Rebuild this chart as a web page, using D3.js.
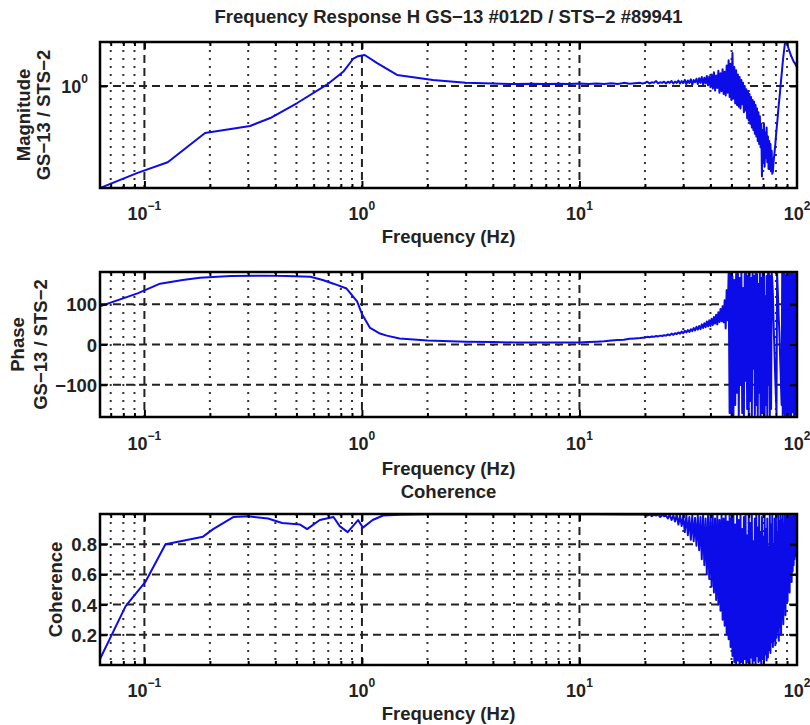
<!DOCTYPE html>
<html><head><meta charset="utf-8">
<script src="https://cdn.jsdelivr.net/npm/d3@7"></script>
<style>
body{margin:0;background:#fff;}
svg text{font-family:"Liberation Sans",Arial,sans-serif;fill:#222;font-weight:bold;}
</style></head>
<body><svg id="c" width="810" height="725"></svg>
<script>
// ---------- data ----------
const titleText = "Frequency Response H GS\u221213 #012D / STS\u22122 #89941";
const xTickExp = [-1, 0, 1, 2];
const magTicks = [1];
const phaseTicks = [-100, 0, 100];
const cohTicks = [0.2, 0.4, 0.6, 0.8];

// low / mid frequency part: [frequency Hz, value]
const magLow = [[0.0625,0.20],[0.093,0.254],[0.128,0.30],[0.19,0.476],[0.306,0.532],[0.379,0.603],[0.504,0.764],[0.69,1.02],[0.82,1.25],[0.91,1.53],[0.96,1.60],[1.03,1.63],[1.17,1.44],[1.45,1.19],[2.12,1.10],[3,1.05],[4,1.04],[5,1.03],[6,1.035],[7,1.03],[8,1.035],[9,1.03],[10,1.04],[11,1.03],[12,1.04],[13,1.03],[14,1.045],[15,1.03],[16,1.05],[17,1.035],[18,1.045],[19,1.05],[19.5,1.04]];
const phaseLow = [[0.0625,95],[0.093,127],[0.118,151],[0.15,160],[0.18,166],[0.25,170],[0.35,171],[0.45,170],[0.58,168],[0.66,160],[0.74,151],[0.85,139],[0.95,107],[1.0,76],[1.09,41],[1.2,28],[1.3,22],[1.49,15],[2,10],[3,7],[4,6],[5,5],[6,5],[7,5],[8,5],[9,5],[10,5],[11,6],[12,7],[13,8],[14,10],[15,11],[16,12],[17,14],[18,15],[19,16],[19.5,17]];
const cohLow = [[0.0625,0.04],[0.082,0.39],[0.101,0.55],[0.125,0.80],[0.186,0.85],[0.207,0.90],[0.256,0.98],[0.30,0.985],[0.37,0.97],[0.43,0.94],[0.52,0.93],[0.56,0.90],[0.64,0.96],[0.74,0.98],[0.79,0.92],[0.86,0.88],[0.96,0.96],[1.01,0.91],[1.12,0.96],[1.25,0.99],[1.5,0.995],[2,0.998],[3,0.999],[5,0.999],[8,0.999],[12,0.998],[16,0.997],[19.5,0.996]];

// high frequency part, 20..100 Hz in 0.5 Hz steps
const hfFreq = [20,20.5,21,21.5,22,22.5,23,23.5,24,24.5,25,25.5,26,26.5,27,27.5,28,28.5,29,29.5,
 30,30.5,31,31.5,32,32.5,33,33.5,34,34.5,35,35.5,36,36.5,37,37.5,38,38.5,39,39.5,
 40,40.5,41,41.5,42,42.5,43,43.5,44,44.5,45,45.5,46,46.5,47,47.5,48,48.5,49,49.5,
 50,50.5,51,51.5,52,52.5,53,53.5,54,54.5,55,55.5,56,56.5,57,57.5,58,58.5,59,59.5,
 60,60.5,61,61.5,62,62.5,63,63.5,64,64.5,65,65.5,66,66.5,67,67.5,68,68.5,69,69.5,
 70,70.5,71,71.5,72,72.5,73,73.5,74,74.5,75,75.5,76,76.5,77,77.5,78,78.5,79,79.5,
 80,80.5,81,81.5,82,82.5,83,83.5,84,84.5,85,85.5,86,86.5,87,87.5,88,88.5,89,89.5,
 90,90.5,91,91.5,92,92.5,93,93.5,94,94.5,95,95.5,96,96.5,97,97.5,98,98.5,99,99.5,100];
const magHF = [1.05,1.07,1.04,1.06,1.05,1.08,1.04,1.06,1.05,1.07,
 1.04,1.07,1.05,1.08,1.04,1.07,1.05,1.09,1.04,1.08,
 1.05,1.10,1.03,1.09,1.05,1.11,1.02,1.10,1.06,1.12,
 1.03,1.13,1.05,1.15,1.02,1.14,1.04,1.17,1.01,1.16,
 0.98,1.20,0.96,1.24,0.93,1.18,0.97,1.27,0.90,1.22,
 0.92,1.30,0.88,1.25,0.86,1.38,0.90,1.50,0.84,1.42,
 0.80,1.68,0.82,1.35,0.76,1.28,0.74,1.20,0.72,1.15,
 0.70,1.10,0.75,1.05,0.66,1.00,0.68,0.95,0.60,0.92,
 0.58,0.88,0.55,0.84,0.52,0.80,0.50,0.78,0.47,0.74,
 0.45,0.70,0.42,0.66,0.40,0.62,0.38,0.55,0.24,0.50,
 0.30,0.55,0.28,0.48,0.32,0.52,0.30,0.45,0.27,0.42,
 0.27,0.40,0.26,0.36,0.25,0.26,0.30,0.33,0.36,0.40,
 0.45,0.50,0.55,0.61,0.68,0.75,0.82,0.90,1.00,1.10,
 1.20,1.32,1.45,1.58,1.70,1.82,1.95,2.05,2.10,2.05,
 1.95,1.90,1.85,1.80,1.75,1.72,1.68,1.64,1.60,1.58,
 1.55,1.52,1.50,1.47,1.45,1.44,1.42,1.40,1.38,1.36,1.35];
const phaseHF = [17,19,18,20,19,21,20,22,21,23,
 22,25,23,27,24,28,26,30,27,32,
 28,34,30,36,31,38,33,41,35,44,
 37,46,38,50,41,53,43,57,45,60,
 46,64,48,68,52,74,50,80,56,88,
 58,95,55,110,40,135,60,178,-170,180,
 -180,170,-178,160,-150,175,-120,178,-178,165,
 -100,180,-170,140,-180,175,-90,178,-160,170,
 -178,180,-140,165,-178,178,-60,170,-175,178,
 -150,175,-178,150,-120,178,-178,165,-170,180,
 -170,178,-178,120,-150,170,-178,178,-100,175,
 -178,170,-160,178,160,120,60,10,-40,-90,
 -130,-170,178,140,100,60,30,-20,-60,-110,
 -150,180,-178,175,-170,178,-180,170,-178,175,
 -176,178,-170,160,-178,175,-165,178,-180,172,
 -168,180,-160,175,-178,170,-175,178,-172,176,-178];
const cohHF = [0.995,0.99,0.998,0.985,0.995,0.99,0.997,0.98,0.995,0.985,
 0.99,0.97,0.995,0.96,0.99,0.95,0.995,0.93,0.99,0.92,
 0.985,0.88,0.99,0.86,0.98,0.83,0.99,0.82,0.975,0.79,
 0.99,0.76,0.98,0.70,0.99,0.66,0.97,0.60,0.99,0.57,
 0.98,0.52,0.99,0.48,0.97,0.43,0.99,0.40,0.96,0.36,
 0.99,0.30,0.97,0.26,0.99,0.20,0.95,0.17,0.99,0.12,
 0.97,0.06,0.99,0.02,0.93,0.01,0.99,0.03,0.96,0.00,
 0.99,0.02,0.90,0.01,0.98,0.04,0.99,0.01,0.86,0.02,
 0.99,0.00,0.94,0.05,0.99,0.01,0.82,0.03,0.97,0.00,
 0.99,0.06,0.91,0.02,0.99,0.03,0.88,0.01,0.98,0.04,
 0.85,0.02,0.99,0.07,0.90,0.03,0.97,0.05,0.78,0.10,
 0.99,0.08,0.93,0.15,0.99,0.12,0.80,0.16,0.97,0.13,
 0.99,0.18,0.88,0.22,0.99,0.16,0.95,0.25,0.99,0.20,
 0.96,0.30,0.99,0.27,0.93,0.38,0.99,0.33,0.97,0.45,
 0.99,0.42,0.96,0.52,0.99,0.48,0.98,0.58,0.99,0.55,
 0.97,0.62,0.99,0.66,0.98,0.70,0.99,0.72,0.97,0.75,0.98];

// ---------- drawing ----------
const svg = d3.select("#c");
const L = 100, R = 797;
const FS = 18.5;
const x = d3.scaleLog().domain([0.0625, 100]).range([L, R]);
const minorX = [];
[0.01,0.1,1,10].forEach(d=>{for(let k=2;k<=9;k++){const v=d*k; if(v>0.0625&&v<100) minorX.push(v);}});
const majorX = xTickExp.map(e=>Math.pow(10,e)).filter(v=>v>0.0625&&v<100);

const panels = [
  {top:42,bottom:188, y:d3.scaleLog().domain([0.2,2]), ticks:magTicks, low:magLow, hf:magHF,
   ylab:["Magnitude","GS\u221213 / STS\u22122"], ylabX:[30,50], fmt:"pow",
   xtickY:220, xlabY:243, title:titleText, titleY:23},
  {top:272,bottom:417, y:d3.scaleLinear().domain([-180,180]), ticks:phaseTicks, low:phaseLow, hf:phaseHF,
   ylab:["Phase","GS\u221213 / STS\u22122"], ylabX:[24,47], fmt:"num",
   xtickY:450, xlabY:475},
  {top:514,bottom:665, y:d3.scaleLinear().domain([0,1]), ticks:cohTicks, low:cohLow, hf:cohHF,
   ylab:["Coherence"], ylabX:[62], fmt:"num",
   xtickY:697, xlabY:720, title:"Coherence", titleY:498}
];

panels.forEach((p,i)=>{
  p.y.range([p.bottom, p.top]);
  const g = svg.append("g");
  const cid = "clip"+i;
  svg.append("clipPath").attr("id",cid).append("rect")
    .attr("x",L).attr("y",p.top).attr("width",R-L).attr("height",p.bottom-p.top);
  // minor dotted grid
  g.selectAll(".mg").data(minorX).join("line")
    .attr("x1",d=>x(d)).attr("x2",d=>x(d)).attr("y1",p.top).attr("y2",p.bottom)
    .attr("stroke","#333").attr("stroke-width",2).attr("stroke-dasharray","2,6");
  // major dashed grid
  g.selectAll(".Mg").data(majorX).join("line")
    .attr("x1",d=>x(d)).attr("x2",d=>x(d)).attr("y1",p.top).attr("y2",p.bottom)
    .attr("stroke","#222").attr("stroke-width",2).attr("stroke-dasharray","8,5");
  g.selectAll(".hg").data(p.ticks).join("line")
    .attr("x1",L).attr("x2",R).attr("y1",d=>p.y(d)).attr("y2",d=>p.y(d))
    .attr("stroke","#222").attr("stroke-width",2).attr("stroke-dasharray","8,5");
  // data line
  const pts = p.low.concat(hfFreq.map((f,k)=>[f,p.hf[k]]));
  const line = d3.line().x(d=>x(d[0])).y(d=>p.y(d[1]));
  g.append("path").attr("d",line(pts)).attr("clip-path",`url(#${cid})`)
    .attr("fill","none").attr("stroke","#0c0ce8").attr("stroke-width",2).attr("stroke-linejoin","round");
  // axes: ticks inside, all four sides
  const ab = d3.axisBottom(x).tickValues(majorX).tickSize(-7).tickFormat("");
  const at = d3.axisTop(x).tickValues(majorX).tickSize(-7).tickFormat("");
  const abm = d3.axisBottom(x).tickValues(minorX).tickSize(-4).tickFormat("");
  const atm = d3.axisTop(x).tickValues(minorX).tickSize(-4).tickFormat("");
  [[ab,p.bottom],[abm,p.bottom],[at,p.top],[atm,p.top]].forEach(([a,yy])=>{
    const ag = g.append("g").attr("transform",`translate(0,${yy})`).call(a);
    ag.select(".domain").remove();
    ag.selectAll("line").attr("stroke","#000").attr("stroke-width",2);
  });
  const al = d3.axisLeft(p.y).tickValues(p.ticks).tickSize(-7).tickFormat("");
  const ar = d3.axisRight(p.y).tickValues(p.ticks).tickSize(-7).tickFormat("");
  [[al,L],[ar,R]].forEach(([a,xx])=>{
    const ag = g.append("g").attr("transform",`translate(${xx},0)`).call(a);
    ag.select(".domain").remove();
    ag.selectAll("line").attr("stroke","#000").attr("stroke-width",2);
  });
  // box
  g.append("rect").attr("x",L).attr("y",p.top).attr("width",R-L).attr("height",p.bottom-p.top)
    .attr("fill","none").attr("stroke","#000").attr("stroke-width",2.5);
  // x tick labels 10^n
  xTickExp.forEach(e=>{
    const t = g.append("text").attr("x",x(Math.pow(10,e))).attr("y",p.xtickY)
      .attr("text-anchor","middle").attr("font-size",18);
    t.append("tspan").text("10");
    t.append("tspan").attr("dy",-10).attr("font-size",12).text(e<0?"\u2212"+(-e):String(e));
  });
  // y tick labels
  p.ticks.forEach(v=>{
    if(p.fmt==="pow"){
      const t = g.append("text").attr("x",L-12).attr("y",p.y(v)+7).attr("text-anchor","end").attr("font-size",18);
      t.append("tspan").text("10");
      t.append("tspan").attr("dy",-10).attr("font-size",12).text("0");
    } else {
      g.append("text").attr("x",L-3).attr("y",p.y(v)+7).attr("text-anchor","end").attr("font-size",FS)
        .text(String(v).replace("-","\u2212"));
    }
  });
  g.append("text").attr("x",(L+R)/2).attr("y",p.xlabY).attr("text-anchor","middle").attr("font-size",FS).text("Frequency (Hz)");
  if(p.title) g.append("text").attr("x",(L+R)/2).attr("y",p.titleY).attr("text-anchor","middle").attr("font-size",FS).text(p.title);
  const cy = (p.top+p.bottom)/2;
  p.ylab.forEach((s,k)=>{
    g.append("text").attr("transform",`translate(${p.ylabX[k]},${cy}) rotate(-90)`)
      .attr("text-anchor","middle").attr("font-size",FS).text(s);
  });
});
</script></body></html>
